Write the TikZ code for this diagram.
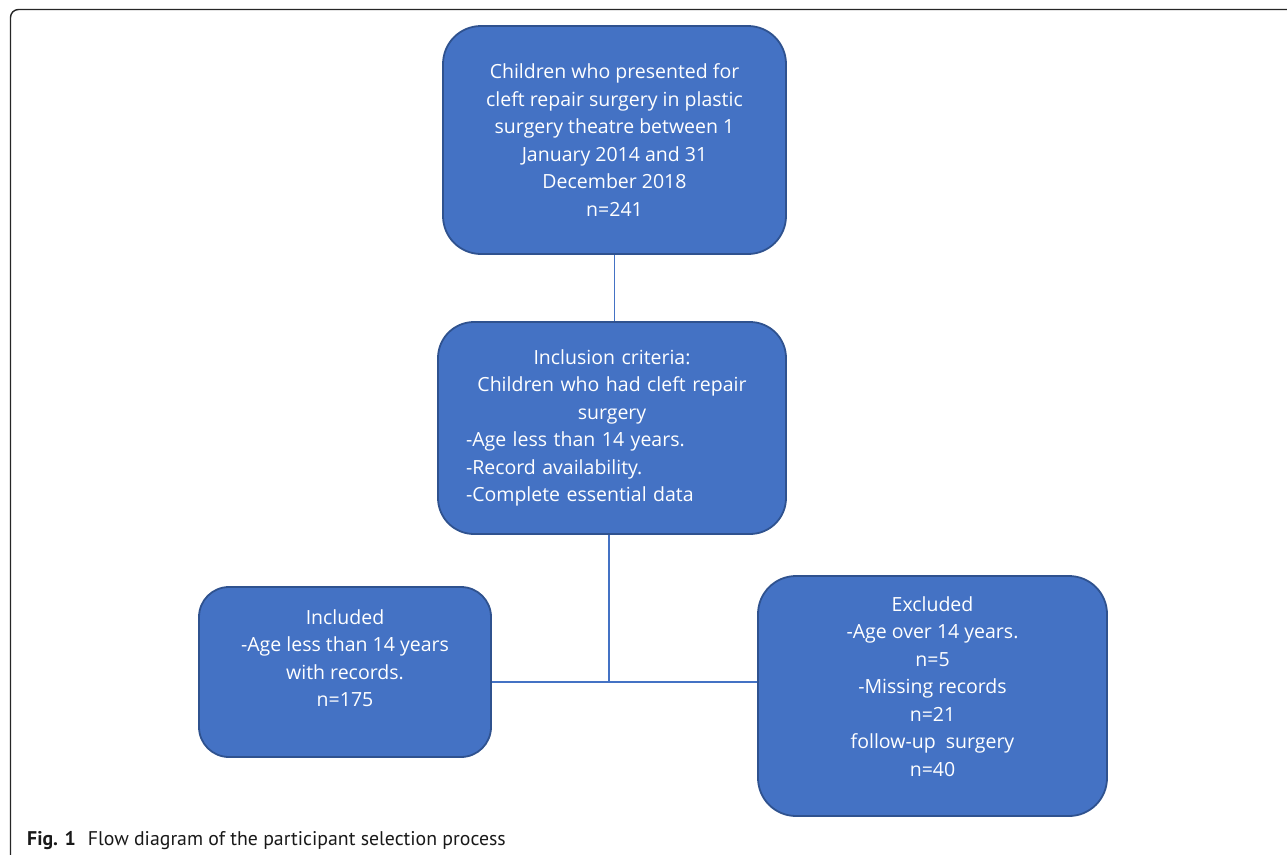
\documentclass[tikz,border=0pt]{standalone}
\usepackage{fontspec}
\setmainfont{Open Sans}
\newfontfamily\capfont{PT Sans}
\usetikzlibrary{positioning}
\definecolor{boxblue}{HTML}{4472C4}
\definecolor{boxedge}{HTML}{2F528F}
\tikzset{
  card/.style={shape=rectangle,draw=boxedge,fill=boxblue,line width=1.8pt},
  cardtext/.style={text=white,align=center,inner sep=0pt,font=\fontsize{19.5}{27.5}\selectfont},
  link/.style={draw=boxblue,line width=1.3pt}
}

\begin{document}
\begin{tikzpicture}[x=1pt,y=-1pt]
  \useasboundingbox (0,0) rectangle (1287,854);
  \draw[line width=1.4pt,black!85,rounded corners=8pt] (10.5,880) -- (10.5,9.5) -- (1300,9.5);
  \node[card,cardtext,rounded corners=38pt,minimum width=343pt,minimum height=228pt] (presented) at (614.5,140) {Children who presented for\\cleft repair surgery in plastic\\surgery theatre between 1\\January 2014 and 31\\December 2018\\n=241};
  \node[card,cardtext,rounded corners=36pt,minimum width=348pt,minimum height=212pt,text width=292pt,align=left] (criteria) at (612,428) {{\centering Inclusion criteria:\\ Children who had cleft repair\\surgery\par}-Age less than 14 years.\\-Record availability.\\-Complete essential data};
  \node[card,rounded corners=30pt,minimum width=292pt,minimum height=170pt] (included) at (345,672) {};
  \node[cardtext] (includedtext) at (345,658) {Included\\-Age less than 14 years\\with records.\\n=175};
  \node[card,rounded corners=38pt,minimum width=349pt,minimum height=240pt] (excluded) at (932.5,696) {};
  \node[cardtext] (excludedtext) at (932.5,686.5) {Excluded\\-Age over 14 years.\\n=5\\-Missing records\\n=21\\follow-up\ \ surgery\\n=40};
  \coordinate (split) at (609,682);
  \path [link](presented.south) edge (presented.south |- criteria.north);
  \path [link](split |- criteria.south) edge (split);
  \path [link](included.east |- split) edge (excluded.west |- split);
  \node[anchor=base west,inner sep=0pt,text=black!90,font=\capfont\fontsize{19.8}{22}\selectfont] (caption) at (27,845) {\textbf{Fig. 1}\hspace{0.6em}Flow diagram of the participant selection process};
\end{tikzpicture}
\end{document}
